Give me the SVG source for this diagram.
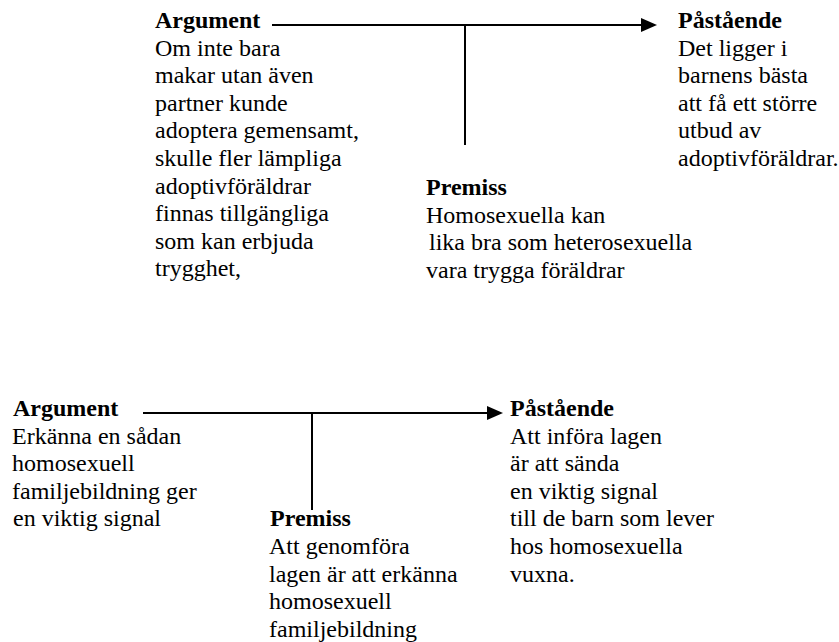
<svg xmlns="http://www.w3.org/2000/svg" width="839" height="642" viewBox="0 0 839 642">
<style>
  text { font-family: "Liberation Serif", "Times New Roman", serif; font-size: 24px; fill: #000; }
  .h { font-weight: bold; }
  .ln { stroke: #000; stroke-width: 2; fill: none; }
  .ah { fill: #000; stroke: none; }
</style>
<rect x="0" y="0" width="839" height="642" fill="#fff"/>
<g id="connectors">
  <line class="ln" x1="272" y1="25" x2="642" y2="25"/>
  <polygon class="ah" points="641,18 657,25 641,32"/>
  <line class="ln" x1="465" y1="25" x2="465" y2="145"/>
  <line class="ln" x1="143" y1="413" x2="488" y2="413"/>
  <polygon class="ah" points="487,406 503,413 487,420"/>
  <line class="ln" x1="312" y1="413" x2="312" y2="510"/>
</g>
<g id="argument1">
  <text x="155" y="28" class="h">Argument</text>
  <text x="155" y="55.6">Om inte bara</text>
  <text x="155" y="83.2">makar utan även</text>
  <text x="155" y="110.8">partner kunde</text>
  <text x="155" y="138.4">adoptera gemensamt,</text>
  <text x="155" y="166">skulle fler lämpliga</text>
  <text x="155" y="193.6">adoptivföräldrar</text>
  <text x="155" y="221.2">finnas tillgängliga</text>
  <text x="155" y="248.8">som kan erbjuda</text>
  <text x="155" y="276.4">trygghet,</text>
</g>
<g id="claim1">
  <text x="678" y="28" class="h">Påstående</text>
  <text x="678" y="55.6">Det ligger i</text>
  <text x="678" y="83.2">barnens bästa</text>
  <text x="678" y="110.8">att få ett större</text>
  <text x="678" y="138.4">utbud av</text>
  <text x="678" y="166">adoptivföräldrar.</text>
</g>
<g id="premise1">
  <text x="426" y="195" class="h">Premiss</text>
  <text x="426" y="222.6">Homosexuella kan</text>
  <text x="429" y="250.2">lika bra som heterosexuella</text>
  <text x="426" y="277.8">vara trygga föräldrar</text>
</g>
<g id="argument2">
  <text x="13" y="416" class="h">Argument</text>
  <text x="12" y="443.6">Erkänna en sådan</text>
  <text x="12" y="471.2">homosexuell</text>
  <text x="12" y="498.8">familjebildning ger</text>
  <text x="13" y="526.4">en viktig signal</text>
</g>
<g id="claim2">
  <text x="510" y="416" class="h">Påstående</text>
  <text x="510" y="443.6">Att införa lagen</text>
  <text x="510" y="471.2">är att sända</text>
  <text x="510" y="498.8">en viktig signal</text>
  <text x="510" y="526.4">till de barn som lever</text>
  <text x="510" y="554">hos homosexuella</text>
  <text x="510" y="581.6">vuxna.</text>
</g>
<g id="premise2">
  <text x="270" y="526.4" class="h">Premiss</text>
  <text x="269" y="554">Att genomföra</text>
  <text x="269" y="581.6">lagen är att erkänna</text>
  <text x="269" y="609.2">homosexuell</text>
  <text x="269" y="636.8">familjebildning</text>
</g>
</svg>
